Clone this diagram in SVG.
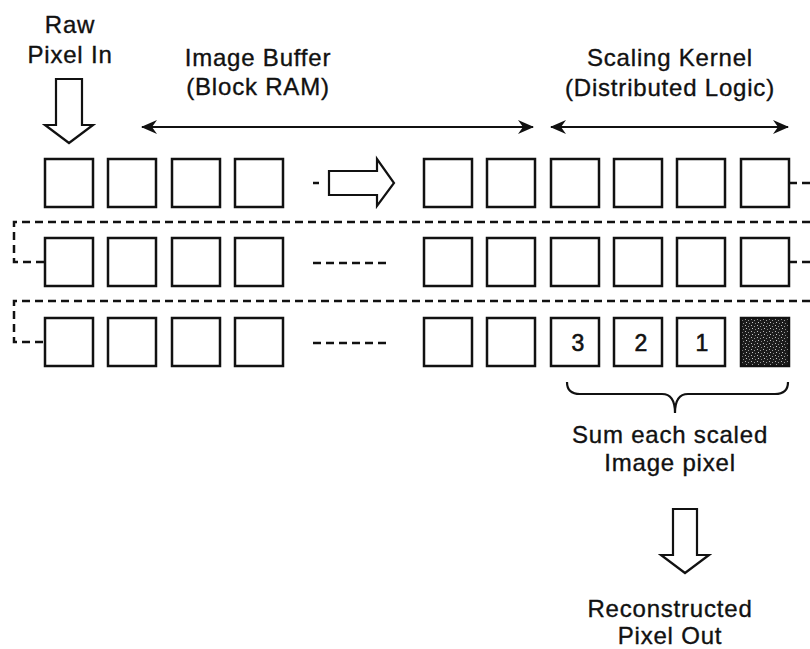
<svg xmlns="http://www.w3.org/2000/svg" width="810" height="649" viewBox="0 0 810 649">
<style>
  .t { font-family: "Liberation Sans", Arial, sans-serif; font-size: 24px; letter-spacing: 0.8px; fill: #111; stroke: #111; stroke-width: 0.35; text-anchor: middle; }
  .n { font-family: "Liberation Sans", Arial, sans-serif; font-size: 23px; fill: #111; stroke: #111; stroke-width: 0.6; text-anchor: middle; }
  .box { fill: #fff; stroke: #111; stroke-width: 2.5; }
  .hollow { fill: #fff; stroke: #111; stroke-width: 2.2; stroke-linejoin: miter; }
  .dash { fill: none; stroke: #111; stroke-width: 2.5; stroke-dasharray: 8 5; }
  .line { fill: none; stroke: #111; stroke-width: 2.2; }
</style>
<defs>
  <marker id="ah" viewBox="0 0 16 14" refX="15" refY="7" markerWidth="16" markerHeight="14" markerUnits="userSpaceOnUse" orient="auto-start-reverse">
    <path d="M0,0 L16,7 L0,14 L5,7 z" fill="#111"/>
  </marker>
  <pattern id="noise" width="6" height="6" patternUnits="userSpaceOnUse">
    <rect width="6" height="6" fill="#1c1c1c"/>
    <rect x="1" y="1" width="1" height="1" fill="#bbb"/>
    <rect x="4" y="2" width="1" height="1" fill="#999"/>
    <rect x="2" y="4" width="1" height="1" fill="#ccc"/>
    <rect x="5" y="5" width="1" height="1" fill="#888"/>
  </pattern>
</defs>

<g id="labels">
  <text class="t" x="70" y="33">Raw</text>
  <text class="t" x="70" y="63">Pixel In</text>
  <text class="t" x="258" y="66">Image Buffer</text>
  <text class="t" x="258" y="95">(Block RAM)</text>
  <text class="t" x="670" y="66">Scaling Kernel</text>
  <text class="t" x="670" y="96">(Distributed Logic)</text>
  <text class="t" x="670" y="443">Sum each scaled</text>
  <text class="t" x="670" y="471">Image pixel</text>
  <text class="t" x="670" y="617">Reconstructed</text>
  <text class="t" x="670" y="644">Pixel Out</text>
</g>

<g id="input-arrow">
  <path class="hollow" d="M56,79 L82,79 L82,125 L93,125 L69,143 L45,125 L56,125 Z"/>
</g>

<g id="output-arrow">
  <path class="hollow" d="M673,509 L697,509 L697,555 L709,555 L685,573 L661,555 L673,555 Z"/>
</g>

<g id="row1">
  <rect class="box" x="45" y="159" width="48" height="48"/>
  <rect class="box" x="108" y="159" width="48" height="48"/>
  <rect class="box" x="172" y="159" width="48" height="48"/>
  <rect class="box" x="235" y="159" width="48" height="48"/>
  <rect class="box" x="424" y="159" width="48" height="48"/>
  <rect class="box" x="487" y="159" width="48" height="48"/>
  <rect class="box" x="551" y="159" width="48" height="48"/>
  <rect class="box" x="614" y="159" width="48" height="48"/>
  <rect class="box" x="677" y="159" width="48" height="48"/>
  <rect class="box" x="741" y="159" width="48" height="48"/>
</g>

<g id="row2">
  <rect class="box" x="45" y="238" width="48" height="48"/>
  <rect class="box" x="108" y="238" width="48" height="48"/>
  <rect class="box" x="172" y="238" width="48" height="48"/>
  <rect class="box" x="235" y="238" width="48" height="48"/>
  <rect class="box" x="424" y="238" width="48" height="48"/>
  <rect class="box" x="487" y="238" width="48" height="48"/>
  <rect class="box" x="551" y="238" width="48" height="48"/>
  <rect class="box" x="614" y="238" width="48" height="48"/>
  <rect class="box" x="677" y="238" width="48" height="48"/>
  <rect class="box" x="741" y="238" width="48" height="48"/>
</g>

<g id="row3">
  <rect class="box" x="45" y="318" width="48" height="48"/>
  <rect class="box" x="108" y="318" width="48" height="48"/>
  <rect class="box" x="172" y="318" width="48" height="48"/>
  <rect class="box" x="235" y="318" width="48" height="48"/>
  <rect class="box" x="424" y="318" width="48" height="48"/>
  <rect class="box" x="487" y="318" width="48" height="48"/>
  <g id="k3"><rect class="box" x="551" y="318" width="48" height="48"/><text class="n" x="578" y="351">3</text></g>
  <g id="k2"><rect class="box" x="614" y="318" width="48" height="48"/><text class="n" x="641" y="351">2</text></g>
  <g id="k1"><rect class="box" x="677" y="318" width="48" height="48"/><text class="n" x="702" y="351">1</text></g>
  <g id="k0"><rect x="741" y="318" width="48" height="48" fill="url(#noise)" stroke="#111" stroke-width="2.5"/></g>
</g>

<g id="connectors">
  <line class="line" x1="142" y1="127" x2="533" y2="127" marker-start="url(#ah)" marker-end="url(#ah)"/>
  <line class="line" x1="551" y1="127" x2="788" y2="127" marker-start="url(#ah)" marker-end="url(#ah)"/>
  <line x1="313" y1="183" x2="319" y2="183" stroke="#111" stroke-width="2.5"/>
  <path class="hollow" d="M329,171 L377,171 L377,159 L394,183 L377,206 L377,195 L329,195 Z"/>
  <path class="dash" d="M789,183 L810,183"/>
  <path class="dash" d="M789,262 L810,262"/>
  <path class="dash" d="M810,222 L14,222 L14,262 L45,262"/>
  <path class="dash" d="M810,301 L14,301 L14,342 L45,342"/>
  <path class="dash" d="M313,263 L391,263"/>
  <path class="dash" d="M313,343 L391,343"/>
  <path class="line" d="M567,382 Q567,394 580,394 L662,394 Q675,394 675,413 Q675,394 688,394 L775,394 Q788,394 788,382"/>
</g>
</svg>
